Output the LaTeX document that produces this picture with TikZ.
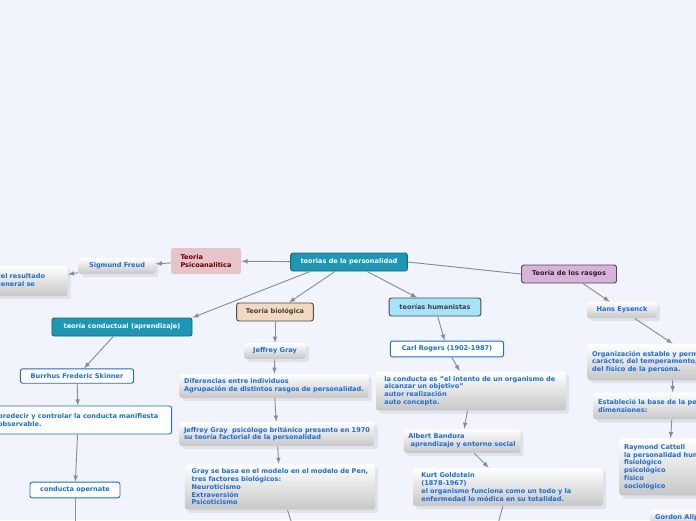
\documentclass[tikz,border=0pt]{standalone}
\usepackage{fontspec}
\setmainfont{DejaVu Sans}
\usetikzlibrary{shadows}
\definecolor{bgblue}{HTML}{F1F4FD}
\definecolor{txtblue}{HTML}{1A6FD8}
\definecolor{teal}{HTML}{1C98B6}
\definecolor{linegray}{HTML}{8A8E94}
\definecolor{psicopink}{HTML}{E6C4CA}
\begin{document}
\begin{tikzpicture}[x=0.03cm,y=-0.03cm,font=\fontsize{5.6}{6.6}\selectfont\bfseries]
\useasboundingbox (0,0) rectangle (696,520);
\fill[bgblue] (0,0) rectangle (696,520);
\clip (0,0) rectangle (696,520);
\begin{scope}[-latex,thick,draw=linegray,
              main/.style={rectangle,rounded corners=2pt,fill=teal,text=white,draw=teal!70!black,align=center,inner sep=3pt},
              topic/.style={rectangle,rounded corners=2pt,draw=black!70,thick,align=center,inner sep=3pt},
              plain/.style={rectangle,rounded corners=2pt,text=txtblue,top color=white,bottom color=black!22,draw=none,align=left,inner sep=4pt,drop shadow={opacity=0.15}},
              framed/.style={rectangle,rounded corners=2pt,text=txtblue,fill=white,draw=txtblue,thick,align=left,inner sep=4pt}]
    \node [main,minimum width=3.5cm,minimum height=0.54cm] (root) at (349,262) {teorias de la personalidad};
    \node [topic,draw=none,fill=psicopink,text=red!40!black,align=left,minimum width=2.1cm,minimum height=0.78cm] (psico) at (206,261) {Teoria\\Psicoanalitica};
    \node [plain,minimum width=2.3cm] (freud) at (117,266) {Sigmund Freud};
    \node [plain,anchor=west,minimum height=0.9cm,text width=2.0cm] (resultado) at (-9,281) {del resultado\\general se};
    \node [main,minimum width=4.2cm,minimum height=0.54cm] (conductual) at (122,327) {teoría conductual (aprendizaje)};
    \node [topic,fill=orange!30!brown!30,text=black!75,minimum width=2.3cm,minimum height=0.54cm] (biologica) at (275,312) {Teoría biológica};
    \node [topic,fill=cyan!35,text=black!75,minimum width=2.75cm,minimum height=0.54cm] (humanistas) at (435,307) {teorías humanistas};
    \node [topic,fill=violet!30,text=black!85,minimum width=2.85cm,minimum height=0.54cm] (rasgos) at (569,274) {Teoría de los rasgos};
    % conductual
    \node [framed,minimum width=3.4cm] (skinner) at (77,376) {Burrhus Frederic Skinner};
    \node [framed,anchor=east,minimum width=5.6cm,minimum height=0.84cm] (predecir) at (172,420) {predecir y controlar la conducta manifiesta\\observable.};
    \node [framed,minimum width=2.7cm] (opernate) at (75,490) {conducta opernate};
    \coordinate (bl) at (75,522);
    % biologica
    \node [plain,minimum width=1.85cm] (gray) at (275,351) {Jeffrey Gray};
    \node [plain,minimum width=5.3cm] (diferencias) at (274,386) {Diferencias entre individuos\\Agrupación de distintos rasgos de personalidad.};
    \node [plain,minimum width=5.6cm] (jeffrey) at (277,434) {Jeffrey Gray\ \ psicólogo británico presento en 1970\\su teoría factorial de la personalidad};
    \node [plain,minimum width=5.7cm,text width=5.3cm] (basa) at (280,487) {Gray se basa en el modelo en el modelo de Pen,\\tres factores biológicos:\\Neuroticismo\\Extraversión\\Psicoticismo};
    \coordinate (bm) at (292,524);
    % humanistas
    \node [framed,minimum width=3.4cm] (rogers) at (447,349) {Carl Rogers (1902-1987)};
    \node [plain,minimum width=5.7cm,minimum height=1.15cm,text width=5.2cm] (conducta) at (471,391) {la conducta es "el intento de un organismo de\\alcanzar un objetivo"\\autor realización\\auto concepto.};
    \node [plain,minimum width=3.35cm] (bandura) at (462,441) {Albert Bandura\\\ aprendizaje y entorno social};
    \node [plain,minimum width=5.7cm,text width=5.2cm] (goldstein) at (508,487) {Kurt Goldstein\\(1878-1967)\\el organismo funciona como un todo y la\\enfermedad lo módica en su totalidad.};
    \coordinate (br) at (498,524);
    % rasgos
    \node [plain,minimum width=2.1cm] (eysenck) at (622,310) {Hans Eysenck};
    \node [plain,anchor=west,minimum height=1.08cm] (organizacion) at (587,362) {Organización estable y permanente del\\carácter, del temperamento, del intelecto y\\del físico de la persona.};
    \node [plain,anchor=west,minimum height=0.8cm] (establecio) at (593,406) {Estableció la base de la personalidad en\\dimensiones:};
    \node [plain,anchor=west,minimum height=1.7cm] (cattell) at (619,467) {Raymond Cattell\\la personalidad humana\\fisiológico\\psicológico\\físico\\sociológico};
    \node [plain,anchor=west] (gordon) at (650,518) {Gordon Allport};
    \path (root) edge (psico);
    \path (psico) edge (freud);
    \path (freud) edge (resultado);
    \path (root.south west) ++(20,0) edge (conductual.north east);
    \path (root) edge (biologica);
    \path (root) edge (humanistas);
    \draw [-] (root.east) -- (rasgos.west);
    \path (conductual) edge (skinner);
    \path (skinner) edge (predecir);
    \path (predecir) edge (opernate);
    \draw [-] (opernate) -- (bl);
    \path (biologica) edge (gray);
    \path (gray) edge (diferencias);
    \path (diferencias) edge (jeffrey);
    \path (jeffrey) edge (basa);
    \draw [-] (basa) -- (bm);
    \path (humanistas) edge (rogers);
    \path (rogers) edge (conducta);
    \path (conducta) edge (bandura);
    \path (bandura) edge (goldstein);
    \draw [-] (goldstein) -- (br);
    \path (rasgos) edge (eysenck);
    \path (eysenck) edge (organizacion.north);
    \path (organizacion.south) ++(0,0) edge (establecio);
    \path (establecio) edge (cattell);
\end{scope}
\end{tikzpicture}
\end{document}
